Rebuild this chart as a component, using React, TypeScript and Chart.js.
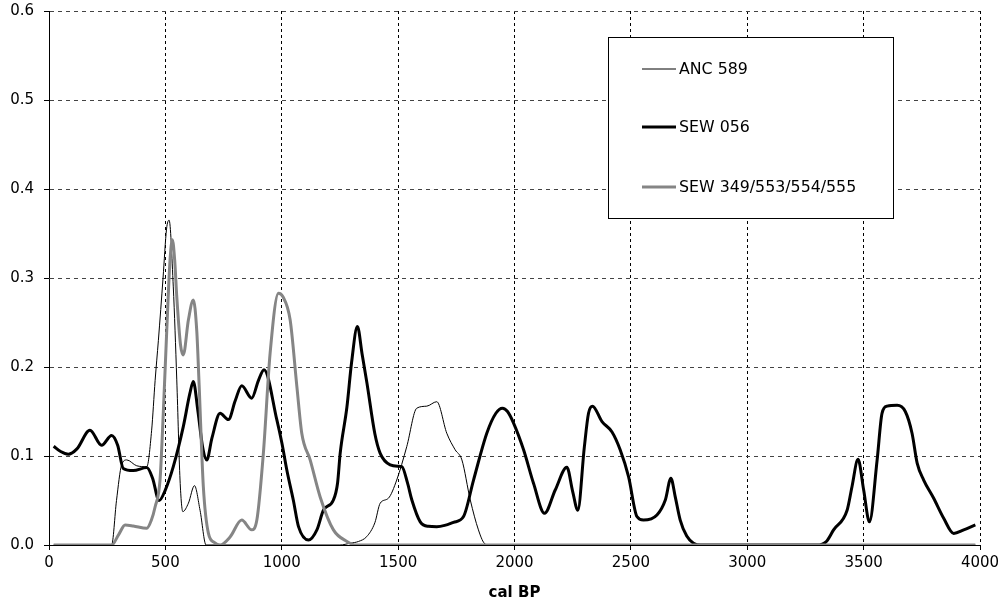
import React, { useEffect, useRef } from "react";
import { Chart, registerables } from "chart.js";

Chart.register(...registerables);

const seriesNames = ["ANC 589", "SEW 056", "SEW 349/553/554/555"];

const ancX = [20, 269, 290, 312, 334, 377, 420, 441, 456, 470, 490, 505, 516, 534, 549, 563, 575, 599, 625, 649, 675, 1250, 1294, 1330, 1365, 1400, 1423, 1458, 1494, 1537, 1580, 1623, 1666, 1709, 1745, 1774, 1810, 1845, 1870, 1890, 3980];
const ancY = [0, 0, 0.05, 0.09, 0.0956, 0.089, 0.088, 0.129, 0.185, 0.23, 0.3, 0.355, 0.365, 0.29, 0.1855, 0.073, 0.0375, 0.047, 0.0667, 0.039, 0, 0, 0.002, 0.004, 0.0094, 0.025, 0.047, 0.0525, 0.073, 0.1105, 0.1537, 0.156, 0.161, 0.1256, 0.107, 0.0956, 0.0506, 0.017, 0.002, 0, 0];

const sew056X = [20, 50, 83, 120, 176, 226, 269, 295, 319, 362, 420, 445, 473, 500, 534, 577, 605, 620, 640, 660, 678, 700, 735, 771, 800, 828, 871, 900, 924, 979, 1001, 1022, 1050, 1072, 1115, 1151, 1179, 1222, 1240, 1251, 1280, 1300, 1325, 1345, 1366, 1400, 1423, 1466, 1500, 1516, 1540, 1559, 1595, 1630, 1666, 1700, 1738, 1781, 1824, 1881, 1920, 1948, 1970, 1996, 2039, 2082, 2129, 2175, 2225, 2250, 2272, 2300, 2318, 2335, 2376, 2419, 2454, 2490, 2526, 2554, 2612, 2648, 2672, 2690, 2712, 2740, 2769, 2800, 3300, 3340, 3371, 3429, 3450, 3476, 3500, 3525, 3558, 3579, 3601, 3644, 3679, 3708, 3730, 3758, 3801, 3844, 3887, 3930, 3980];
const sew056Y = [0.111, 0.105, 0.102, 0.108, 0.129, 0.112, 0.123, 0.112, 0.086, 0.0836, 0.087, 0.075, 0.05, 0.062, 0.088, 0.133, 0.17, 0.1836, 0.15, 0.11, 0.0956, 0.12, 0.148, 0.141, 0.162, 0.179, 0.165, 0.185, 0.197, 0.1405, 0.114, 0.084, 0.05, 0.0206, 0.0056, 0.017, 0.039, 0.0506, 0.07, 0.103, 0.155, 0.205, 0.2455, 0.215, 0.182, 0.125, 0.103, 0.09, 0.0885, 0.088, 0.07, 0.0506, 0.026, 0.021, 0.0206, 0.022, 0.0255, 0.032, 0.073, 0.1256, 0.148, 0.1537, 0.15, 0.137, 0.107, 0.069, 0.0356, 0.0618, 0.0873, 0.06, 0.039, 0.11, 0.148, 0.156, 0.1386, 0.127, 0.107, 0.0768, 0.032, 0.028, 0.0337, 0.0506, 0.075, 0.055, 0.028, 0.01, 0.002, 0, 0, 0.004, 0.017, 0.039, 0.0655, 0.0963, 0.062, 0.026, 0.0955, 0.148, 0.156, 0.157, 0.15, 0.1256, 0.092, 0.073, 0.0525, 0.03, 0.013, 0.0169, 0.0225];

const sewGroupX = [20, 269, 300, 327, 362, 420, 440, 456, 477, 491, 506, 520, 530, 540, 549, 565, 577, 599, 620, 635, 645, 663, 685, 710, 735, 778, 828, 871, 893, 921, 950, 986, 1005, 1036, 1065, 1086, 1122, 1165, 1222, 1280, 1320, 3980];
const sewGroupY = [0, 0, 0.012, 0.0225, 0.0214, 0.0187, 0.028, 0.043, 0.073, 0.148, 0.2417, 0.32, 0.343, 0.32, 0.279, 0.225, 0.2136, 0.253, 0.2754, 0.24, 0.18, 0.066, 0.013, 0.003, 0, 0.009, 0.028, 0.017, 0.028, 0.103, 0.2155, 0.283, 0.279, 0.253, 0.178, 0.1256, 0.0956, 0.054, 0.017, 0.004, 0, 0];

const xTickStep = 500;
const yTickStep = 0.1;

const FONT = "'DejaVu Sans', Verdana, sans-serif";

function pts(xs: number[], ys: number[]) {
  return xs.map((x, i) => ({ x, y: ys[i] }));
}

const legendPlugin = {
  id: "boxLegend",
  afterDatasetsDraw(chart: any) {
    const ctx = chart.ctx;
    ctx.save();
    ctx.fillStyle = "#fff";
    ctx.fillRect(608, 37, 285, 181);
    ctx.strokeStyle = "#000";
    ctx.lineWidth = 1;
    ctx.strokeRect(608.5, 37.5, 285, 181);
    const ys = [69, 127, 187];
    chart.data.datasets.forEach((ds: any, i: number) => {
      ctx.beginPath();
      ctx.strokeStyle = ds.borderColor;
      ctx.lineWidth = ds.borderWidth;
      ctx.moveTo(642, ys[i]);
      ctx.lineTo(676, ys[i]);
      ctx.stroke();
      ctx.fillStyle = "#000";
      ctx.font = `15.8px ${FONT}`;
      ctx.textBaseline = "middle";
      ctx.textAlign = "left";
      ctx.fillText(ds.label, 679, ys[i] + 1);
    });
    ctx.restore();
  },
};

export default function App() {
  const ref = useRef<HTMLCanvasElement>(null);
  useEffect(() => {
    if (!ref.current) return;
    const chart = new Chart(ref.current, {
      type: "line",
      data: {
        datasets: [
          {
            label: seriesNames[0],
            data: pts(ancX, ancY),
            borderColor: "#000",
            borderWidth: 1,
            pointRadius: 0,
            cubicInterpolationMode: "monotone",
            order: 3,
          },
          {
            label: seriesNames[1],
            data: pts(sew056X, sew056Y),
            borderColor: "#000",
            borderWidth: 3,
            pointRadius: 0,
            cubicInterpolationMode: "monotone",
            order: 2,
          },
          {
            label: seriesNames[2],
            data: pts(sewGroupX, sewGroupY),
            borderColor: "#858585",
            borderWidth: 3,
            pointRadius: 0,
            cubicInterpolationMode: "monotone",
            order: 1,
          },
        ],
      },
      options: {
        animation: false,
        responsive: false,
        layout: { padding: { top: 11, right: 25, left: 0, bottom: 0 } },
        plugins: { legend: { display: false }, tooltip: { enabled: false } },
        scales: {
          x: {
            type: "linear",
            min: 0,
            max: 4000,
            ticks: { stepSize: xTickStep, color: "#000", font: { family: FONT, size: 15 }, padding: 4, maxRotation: 0, callback: (v: any) => String(v) },
            grid: { color: "#000", tickColor: "#000", tickLength: 5, lineWidth: 1 },
            border: { display: true, color: "#000", dash: [3, 3] },
            title: { display: true, text: "cal BP", color: "#000", font: { family: FONT, size: 15, weight: "bold" }, padding: { top: 0, bottom: 2 } },
            afterFit: (s: any) => { s.height = 59; s.paddingLeft = 0; s.paddingRight = 0; },
          },
          y: {
            min: 0,
            max: 0.6,
            ticks: { stepSize: yTickStep, color: "#000", font: { family: FONT, size: 15 }, padding: 10, callback: (v: any) => Number(v).toFixed(1) },
            grid: { color: "#444", tickColor: "#000", tickLength: 5, lineWidth: 1 },
            border: { display: true, color: "#000", dash: [4, 4] },
            afterFit: (s: any) => { s.width = 49; s.paddingTop = 0; s.paddingBottom = 0; },
          },
        },
      },
      plugins: [legendPlugin],
    } as any);
    return () => chart.destroy();
  }, []);
  return (
    <div style={{ position: "fixed", left: 0, top: 0, width: 1005, height: 604, background: "#fff" }}>
      <canvas ref={ref} width={1005} height={604} />
    </div>
  );
}
